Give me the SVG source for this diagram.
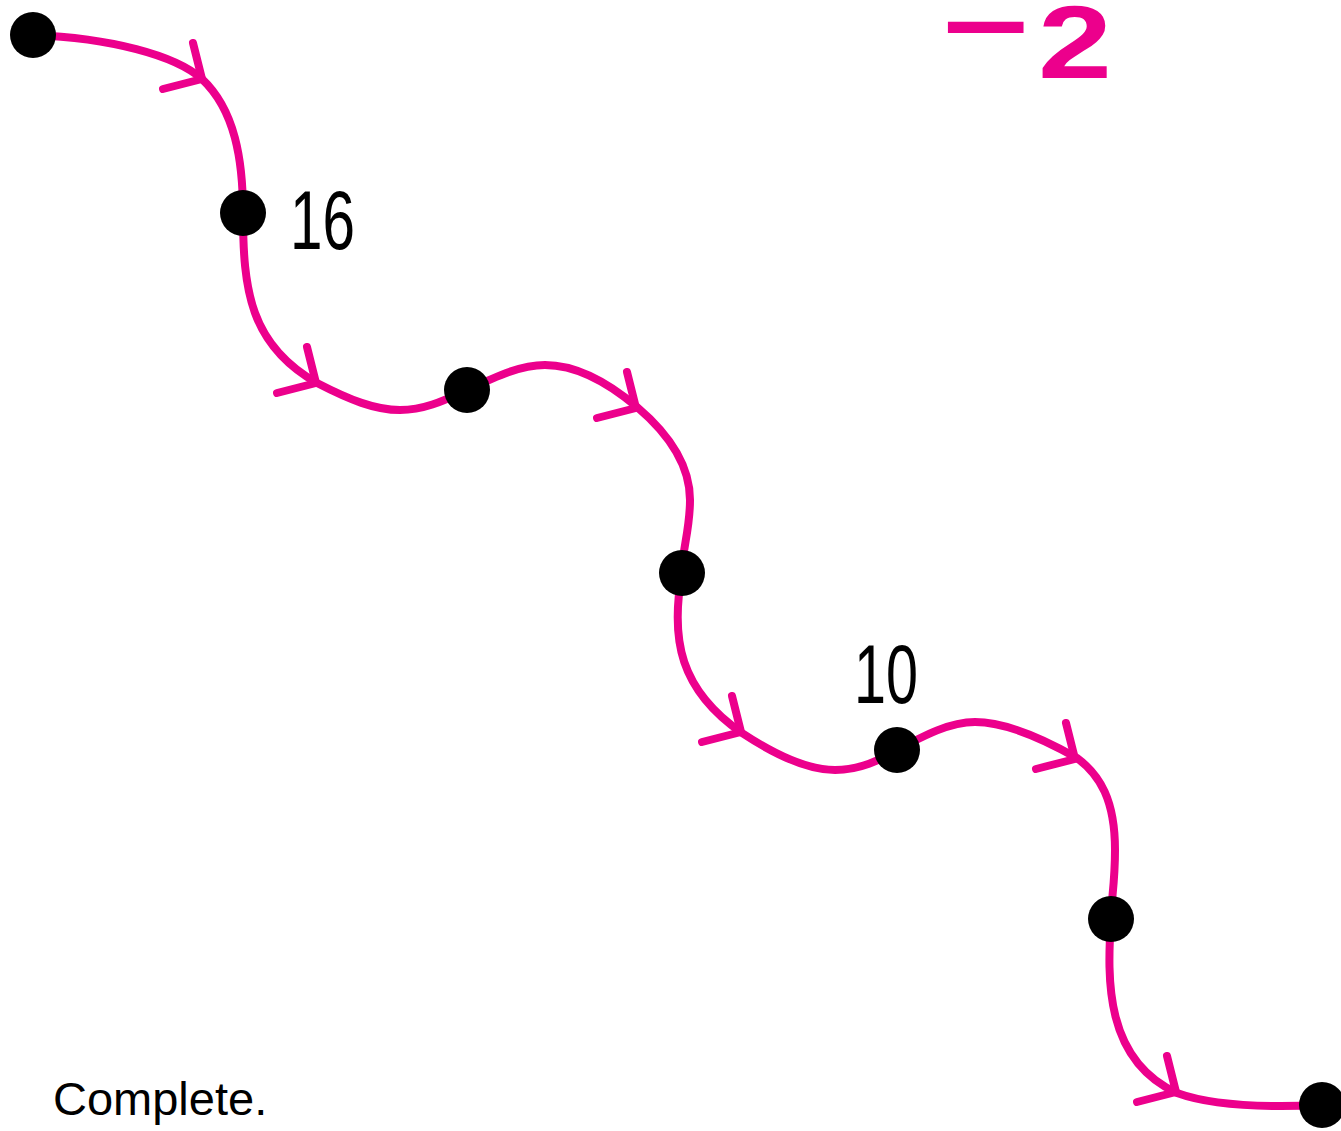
<svg xmlns="http://www.w3.org/2000/svg" xmlns:xlink="http://www.w3.org/1999/xlink" width="1341" height="1131" viewBox="0 0 1341 1131">
<style>
.wire{fill:none;stroke:#EC008C;stroke-width:8;stroke-linecap:round;stroke-linejoin:round}
.dot{fill:#000}
.num{font-family:"Liberation Sans",Arial,sans-serif;font-size:84px;fill:#000}
.pink{font-family:"Liberation Sans",Arial,sans-serif;font-size:104px;fill:#EC008C;font-weight:bold}
.cap{font-family:"Liberation Sans",Arial,sans-serif;font-size:47px;fill:#000}
</style>
<defs>
<path id="chev" d="M-9,-36 L0,0 L-39,10" class="wire"/>
</defs>
<rect width="1341" height="1131" fill="#fff"/>
<g id="connectors">
<path class="wire" d="M33,35 C110,38 175,55 202,79 C235,110 243,160 243,213 C243,290 250,345 317,383 C350,400 375,410 400,410 C425,410 445,400 467,390 C495,377 520,365 545,365 C575,365 605,380 637,407 C670,435 690,465 690,500 C690,530 682,550 682,573 C670,640 680,690 742,733 C780,758 810,770 835,770 C860,770 880,760 897,750 C925,735 950,722 975,722 C1005,722 1040,737 1077,758 C1100,775 1115,800 1115,850 C1115,885 1111,900 1111,919 C1107,980 1105,1060 1177,1093 C1210,1105 1260,1108 1322,1105"/>
<use xlink:href="#chev" transform="translate(202,79)"/>
<use xlink:href="#chev" transform="translate(316,383)"/>
<use xlink:href="#chev" transform="translate(636,408)"/>
<use xlink:href="#chev" transform="translate(741,732)"/>
<use xlink:href="#chev" transform="translate(1075,759)"/>
<use xlink:href="#chev" transform="translate(1176,1092)"/>
</g>
<g id="n0"><circle class="dot" cx="33" cy="35" r="23"/></g>
<g id="n1"><circle class="dot" cx="243" cy="213" r="23"/><text class="num" x="290" y="249" textLength="65" lengthAdjust="spacingAndGlyphs">16</text></g>
<g id="n2"><circle class="dot" cx="467" cy="390" r="23"/></g>
<g id="n3"><circle class="dot" cx="682" cy="573" r="23"/></g>
<g id="n4"><circle class="dot" cx="897" cy="750" r="23"/><text class="num" x="854" y="703" textLength="64" lengthAdjust="spacingAndGlyphs">10</text></g>
<g id="n5"><circle class="dot" cx="1111" cy="919" r="23"/></g>
<g id="n6"><circle class="dot" cx="1322" cy="1105" r="23"/></g>
<g id="label-neg2"><text class="pink"><tspan x="942" y="62" textLength="88" lengthAdjust="spacingAndGlyphs">−</tspan><tspan x="1038" y="78" textLength="74" lengthAdjust="spacingAndGlyphs">2</tspan></text></g>
<g id="caption"><text class="cap" x="53" y="1115">Complete.</text></g>
</svg>
